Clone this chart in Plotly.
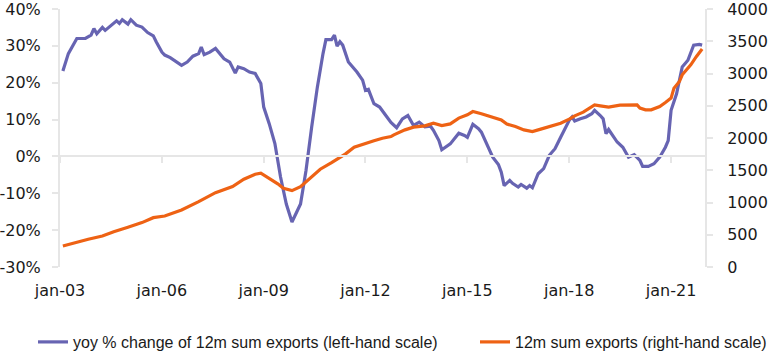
import plotly.graph_objects as go

# yoy % change of 12m sum exports (left-hand scale)
yoy_dates = ["2003-02","2003-04","2003-07","2003-10","2003-12","2004-01","2004-02","2004-04","2004-05","2004-07",
             "2004-09","2004-10","2004-11","2005-01","2005-02","2005-04","2005-06","2005-08","2005-10","2005-11",
             "2006-01","2006-02","2006-04","2006-08","2006-10","2006-12","2007-02","2007-03","2007-04","2007-06",
             "2007-08","2007-11","2008-01","2008-03","2008-04","2008-06","2008-08","2008-10","2008-12","2009-01",
             "2009-03","2009-05","2009-07","2009-09","2009-11","2010-02","2010-04","2010-06","2010-08","2010-10",
             "2010-11","2011-01","2011-02","2011-03","2011-04","2011-05","2011-07","2011-10","2011-12","2012-01",
             "2012-02","2012-04","2012-06","2012-08","2012-10","2012-12","2013-02","2013-04","2013-06","2013-08",
             "2013-10","2013-12","2014-01","2014-03","2014-04","2014-07","2014-08","2014-10","2014-12","2015-01",
             "2015-03","2015-05","2015-06","2015-08","2015-10","2015-12","2016-01","2016-02","2016-04","2016-05",
             "2016-07","2016-08","2016-10","2016-11","2016-12","2017-02","2017-04","2017-06","2017-08","2017-10",
             "2017-12","2018-01","2018-02","2018-03","2018-05","2018-07","2018-09","2018-10","2018-12","2019-01",
             "2019-02","2019-03","2019-06","2019-08","2019-10","2019-12","2020-02","2020-03","2020-05","2020-07",
             "2020-09","2020-11","2020-12","2021-01","2021-03","2021-04","2021-05","2021-07","2021-09","2021-11",
             "2021-12"]
yoy_values = [23.2,27.9,32.0,32.0,32.9,34.7,33.3,35.0,34.2,35.6,
              36.8,36.1,37.1,35.9,37.1,35.6,35.1,33.6,32.7,31.1,
              28.3,27.5,26.8,24.7,25.6,27.2,27.9,29.7,27.6,28.3,
              29.3,26.5,25.6,22.6,24.3,23.8,22.9,22.5,19.8,13.4,
              8.9,3.5,-5.6,-12.9,-17.8,-12.9,-3.8,8.0,18.8,27.9,
              31.7,31.7,32.9,29.9,31.1,30.2,25.6,22.9,20.7,17.9,
              18.2,14.3,13.4,11.3,9.2,7.8,10.2,11.1,8.4,9.3,
              8.0,8.2,7.1,4.3,1.8,3.4,4.5,6.3,5.7,5.2,
              8.7,7.5,6.6,3.4,-0.2,-2.2,-4.3,-7.9,-6.5,-7.3,
              -8.3,-7.6,-8.6,-7.9,-8.5,-4.7,-3.3,0.3,2.1,5.2,
              8.0,9.8,10.7,9.6,10.2,10.7,11.6,12.5,11.1,10.2,
              6.2,7.3,3.9,2.5,-0.2,0.5,-1.1,-2.7,-2.7,-2.0,
              -0.2,2.5,4.3,12.5,17.0,20.7,24.3,26.1,30.2,30.4,
              30.2]

# 12m sum exports (right-hand scale)
sum_dates = ["2003-02","2003-06","2003-11","2004-04","2004-08","2005-01","2005-06","2005-10","2006-02","2006-08",
             "2007-02","2007-08","2008-02","2008-06","2008-10","2008-12","2009-01","2009-04","2009-06","2009-08",
             "2009-11","2010-02","2010-06","2010-09","2011-01","2011-06","2011-09","2012-01","2012-04","2012-07",
             "2012-10","2012-11","2013-03","2013-06","2013-10","2014-01","2014-04","2014-07","2014-10","2015-01",
             "2015-03","2015-06","2015-09","2015-12","2016-01","2016-03","2016-06","2016-09","2016-12","2017-03",
             "2017-07","2017-10","2018-01","2018-03","2018-06","2018-08","2018-10","2018-12","2019-03","2019-07",
             "2020-01","2020-02","2020-04","2020-06","2020-09","2020-11","2021-01","2021-02","2021-04","2021-05",
             "2021-08","2021-10","2021-12"]
sum_values = [326,377,430,481,548,616,688,765,790,885,
              1013,1153,1246,1361,1439,1454,1428,1350,1290,1221,
              1184,1246,1401,1516,1619,1754,1857,1920,1956,1997,
              2022,2049,2126,2168,2188,2230,2193,2219,2308,2359,
              2410,2375,2333,2297,2281,2215,2177,2126,2100,2137,
              2188,2230,2292,2344,2401,2452,2514,2499,2478,2509,
              2514,2463,2437,2437,2488,2550,2618,2773,2876,2980,
              3135,3264,3379]

x_tick_vals = ["2003-01-01","2006-01-01","2009-01-01","2012-01-01","2015-01-01","2018-01-01","2021-01-01"]
x_tick_text = ["jan-03","jan-06","jan-09","jan-12","jan-15","jan-18","jan-21"]
left_tick_vals = [-30, -20, -10, 0, 10, 20, 30, 40]
left_tick_text = ["-30%", "-20%", "-10%", "0%", "10%", "20%", "30%", "40%"]
right_tick_vals = [0, 500, 1000, 1500, 2000, 2500, 3000, 3500, 4000]
right_tick_text = ["0", "500", "1000", "1500", "2000", "2500", "3000", "3500", "4000"]

BLUE = "#6764b2"
ORANGE = "#ee6214"
AXIS = "#e6e6e6"
TXT = "#1a1a1a"
FONT = "DejaVu Sans"
LFONT = "Liberation Sans"
x_range = ["2003-01-01", "2022-01-01"]

fig = go.Figure()
fig.add_trace(go.Scatter(x=yoy_dates, y=yoy_values, mode="lines",
                         name="yoy % change of 12m sum exports (left-hand scale)",
                         line=dict(color=BLUE, width=3.2), yaxis="y", legend="legend"))
fig.add_trace(go.Scatter(x=sum_dates, y=sum_values, mode="lines",
                         name="12m sum exports (right-hand scale)",
                         line=dict(color=ORANGE, width=3.2), yaxis="y2", legend="legend2"))
# invisible helper trace to activate the zero-line x axis
fig.add_trace(go.Scatter(x=yoy_dates, y=yoy_values, mode="lines", xaxis="x2", yaxis="y",
                         opacity=0, showlegend=False, hoverinfo="skip",
                         line=dict(color=BLUE, width=0)))

legend_common = dict(orientation="h", yanchor="middle", y=-0.2907, xanchor="left",
                     font=dict(family=LFONT, size=16, color=TXT),
                     bgcolor="rgba(0,0,0,0)", borderwidth=0)

fig.update_layout(
    width=770, height=352,
    margin=dict(l=60, r=65, t=9, b=85, autoexpand=False),
    paper_bgcolor="white", plot_bgcolor="white",
    font=dict(family=FONT, size=16, color=TXT),
    showlegend=True,
    legend=dict(x=(33 - 60) / 645, **legend_common),
    legend2=dict(x=(475 - 60) / 645, **legend_common),
    xaxis=dict(type="date", range=x_range, tickvals=x_tick_vals, ticktext=x_tick_text,
               showgrid=False, zeroline=False, showline=False, ticks="",
               ticklabelstandoff=12, tickfont=dict(size=16)),
    xaxis2=dict(type="date", overlaying="x", anchor="free", position=30/70,
                range=x_range, tickvals=x_tick_vals, showticklabels=False,
                showgrid=False, zeroline=False, showline=True, linecolor=AXIS, linewidth=2,
                ticks="outside", ticklen=6, tickcolor=AXIS, tickwidth=2),
    yaxis=dict(range=[-30, 40], tickvals=left_tick_vals, ticktext=left_tick_text,
               showgrid=False, zeroline=False,
               showline=True, linecolor=AXIS, linewidth=2, ticks="outside", ticklen=6,
               tickcolor=AXIS, tickwidth=2, ticklabelstandoff=8, tickfont=dict(size=16),
               ticklabeloverflow="allow"),
    yaxis2=dict(range=[0, 4000], tickvals=right_tick_vals, ticktext=right_tick_text,
                overlaying="y", side="right", showgrid=False,
                zeroline=False, showline=True, linecolor=AXIS, linewidth=2, ticks="outside",
                ticklen=6, tickcolor=AXIS, tickwidth=2, ticklabelstandoff=11,
                tickfont=dict(size=16), ticklabeloverflow="allow"),
)

fig.write_html("out.html")
